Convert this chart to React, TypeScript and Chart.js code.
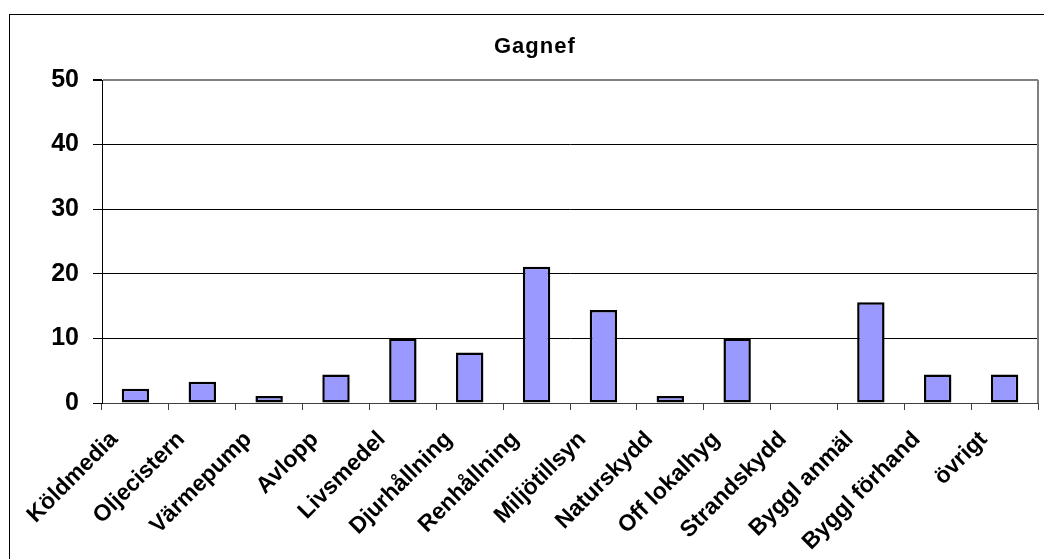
import React, { useEffect, useRef } from "react";
import { Chart, registerables } from "chart.js";

Chart.register(...registerables);

const categories = [
  "Köldmedia",
  "Oljecistern",
  "Värmepump",
  "Avlopp",
  "Livsmedel",
  "Djurhållning",
  "Renhållning",
  "Miljötillsyn",
  "Naturskydd",
  "Off lokalhyg",
  "Strandskydd",
  "Byggl anmäl",
  "Byggl förhand",
  "övrigt",
];

const values = [2.2, 3.3, 1.1, 4.4, 10.0, 7.8, 21.1, 14.4, 1.1, 10.0, 0, 15.6, 4.4, 4.4];

const title = "Gagnef";
const yMin = 0;
const yMax = 50;
const yStep = 10;

const FONT = "'Liberation Sans', Arial, sans-serif";

const decorations = {
  id: "decorations",
  afterDraw(chart: any) {
    const { ctx, chartArea } = chart;
    ctx.save();
    ctx.strokeStyle = "#808080";
    ctx.lineWidth = 2;
    ctx.beginPath();
    ctx.moveTo(chartArea.right, chartArea.top);
    ctx.lineTo(chartArea.right, chartArea.bottom);
    ctx.stroke();
    // title
    ctx.fillStyle = "#000";
    ctx.font = `bold 22px ${FONT}`;
    try {
      (ctx as any).letterSpacing = "1px";
    } catch (e) {}
    ctx.textAlign = "left";
    ctx.textBaseline = "alphabetic";
    ctx.fillText(title, 494, 53);
    ctx.restore();
  },
};

export default function App() {
  const ref = useRef<HTMLCanvasElement | null>(null);

  useEffect(() => {
    document.body.style.margin = "0";
    const canvas = ref.current;
    if (!canvas) return;
    const chart = new Chart(canvas, {
      type: "bar",
      data: {
        labels: categories,
        datasets: [
          {
            data: values,
            backgroundColor: "#9999FF",
            borderColor: "#000000",
            borderWidth: 2.5,
            borderSkipped: false,
            categoryPercentage: 1,
            barPercentage: 0.41,
          },
        ],
      },
      plugins: [decorations],
      options: {
        animation: false,
        responsive: false,
        maintainAspectRatio: false,
        layout: { padding: { left: 0, right: 6, top: 80, bottom: 0 } },
        plugins: {
          legend: { display: false },
          tooltip: { enabled: false },
          title: { display: false },
        },
        scales: {
          x: {
            offset: true,
            grid: {
              offset: true,
              drawOnChartArea: false,
              drawTicks: true,
              tickLength: 7,
              tickColor: "#404040",
            },
            border: { display: true, color: "#404040", width: 1 },
            ticks: {
              color: "#000",
              font: { family: FONT, size: 23, weight: "bold" },
              minRotation: 45,
              maxRotation: 45,
              autoSkip: false,
              labelOffset: -21,
              padding: 16,
            },
            afterFit(scale: any) {
              scale.height = 156;
            },
          },
          y: {
            min: yMin,
            max: yMax,
            grid: {
              color: (ctx: any) =>
                ctx.tick && ctx.tick.value === yMax ? "#808080" : ctx.tick && ctx.tick.value === 0 ? "#404040" : "#000000",
              lineWidth: (ctx: any) => (ctx.tick && ctx.tick.value === yMax ? 2 : 1),
              drawTicks: true,
              tickLength: 9,
              tickColor: "#000",
            },
            border: { display: true, color: "#000", width: 1 },
            ticks: {
              stepSize: yStep,
              color: "#000",
              font: { family: FONT, size: 25, weight: "bold" },
              padding: 14,
            },
            afterFit(scale: any) {
              scale.width = 102;
            },
          },
        },
      },
    });
    return () => chart.destroy();
  }, []);

  return (
    <div style={{ position: "relative", width: 1044, height: 559, overflow: "hidden", background: "#fff" }}>
      <div
        style={{
          position: "absolute",
          left: 9,
          top: 14,
          width: 1100,
          height: 600,
          border: "1px solid #000",
          boxSizing: "border-box",
        }}
      />
      <canvas ref={ref} width={1044} height={559} style={{ position: "absolute", left: 0, top: 0 }} />
    </div>
  );
}
